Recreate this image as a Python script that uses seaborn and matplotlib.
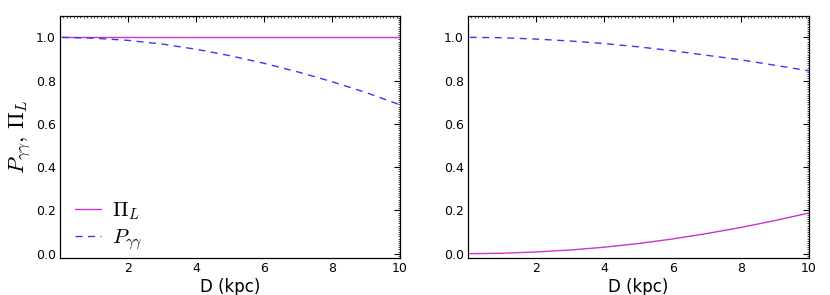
import numpy as np
import pandas as pd
import matplotlib
matplotlib.use("Agg")
import matplotlib.pyplot as plt
from matplotlib.ticker import MultipleLocator, FixedLocator
import seaborn as sns

# ---- data ----
D = [0.05, 1, 2, 3, 4, 5, 6, 7, 8, 9, 10]
P_left = [1.0, 0.996, 0.986, 0.969, 0.945, 0.915, 0.880, 0.840, 0.795, 0.745, 0.688]
Pi_left = [1.0, 1.0, 1.0, 1.0, 1.0, 1.0, 1.0, 1.0, 1.0, 1.0, 1.0]
P_right = [1.0, 0.998, 0.992, 0.983, 0.971, 0.956, 0.938, 0.917, 0.896, 0.871, 0.845]
Pi_right = [0.0, 0.002, 0.008, 0.017, 0.030, 0.047, 0.068, 0.093, 0.121, 0.153, 0.188]
xticks = [2, 4, 6, 8, 10]
yticks = [0.0, 0.2, 0.4, 0.6, 0.8, 1.0]

sns.set_style("white")
plt.rcParams['font.family'] = ['DejaVu Sans']
plt.rcParams['mathtext.fontset'] = 'cm'
plt.rcParams['text.color'] = 'black'
plt.rcParams['axes.labelcolor'] = 'black'
plt.rcParams['xtick.color'] = 'black'
plt.rcParams['ytick.color'] = 'black'

fig = plt.figure(figsize=(8.3, 2.95), dpi=100)
ax1 = fig.add_axes([0.0723, 0.1254, 0.4096, 0.8214])
ax2 = fig.add_axes([0.5639, 0.1254, 0.4108, 0.8214])

pi_color = '#cc33cc'
p_color = '#3838f0'

def draw(ax, P, Pi, legend):
    df = pd.DataFrame({'D': D, 'P': P, 'Pi': Pi})
    sns.lineplot(data=df, x='D', y='Pi', ax=ax, color=pi_color, lw=1.0,
                 label=r'$\Pi_L$' if legend else None)
    sns.lineplot(data=df, x='D', y='P', ax=ax, color=p_color, lw=1.0,
                 linestyle=(0, (5, 4)), label=r'$P_{\gamma\gamma}$' if legend else None)
    ax.set_xlim(0.0, 10)
    ax.set_ylim(-0.02, 1.1)
    ax.xaxis.set_major_locator(FixedLocator(xticks))
    ax.yaxis.set_major_locator(FixedLocator(yticks))
    ax.xaxis.set_minor_locator(MultipleLocator(0.1))
    ax.yaxis.set_minor_locator(MultipleLocator(0.01))
    ax.tick_params(which='major', direction='in', length=4, width=0.8,
                   top=True, right=True, labelsize=9, pad=3, colors='black')
    ax.tick_params(which='minor', direction='in', length=1.5, width=0.5,
                   top=True, right=True)
    for s in ax.spines.values():
        s.set_visible(True)
        s.set_color('black')
        s.set_linewidth(0.9)
    ax.set_xlabel('D (kpc)', fontsize=12, labelpad=2, color='black')
    ax.set_ylabel('')
    if legend:
        ax.legend(loc='lower left', bbox_to_anchor=(0.0, -0.035), frameon=False,
                  fontsize=15, handlelength=1.25, handletextpad=0.55,
                  labelspacing=0.25, borderaxespad=0.3)
    else:
        lg = ax.get_legend()
        if lg is not None:
            lg.remove()

draw(ax1, P_left, Pi_left, True)
draw(ax2, P_right, Pi_right, False)
ax1.set_ylabel(r'$P_{\gamma\gamma},\, \Pi_L$', fontsize=16, labelpad=2, color='black')

fig.savefig('out.png', dpi=100)
